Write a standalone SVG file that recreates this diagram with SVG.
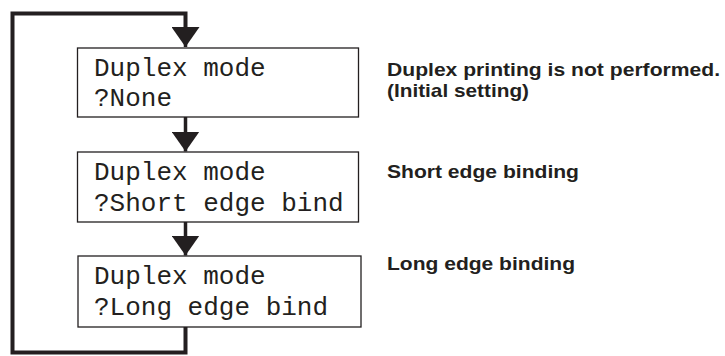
<svg xmlns="http://www.w3.org/2000/svg" width="725" height="356" viewBox="0 0 725 356">
<style>
.box{fill:#fff;stroke:#231f20;stroke-width:1.3}
.mono{font-family:"Liberation Mono","Courier New",monospace;font-size:26px;fill:#231f20}
.lbl{font-family:"Liberation Sans",Arial,sans-serif;font-size:19px;font-weight:bold;fill:#231f20}
.conn{fill:none;stroke:#231f20;stroke-width:4;stroke-linejoin:miter}
.flow{fill:none;stroke:#231f20;stroke-width:3.5}
</style>
<defs>
<marker id="ah" markerUnits="userSpaceOnUse" markerWidth="20" markerHeight="28" viewBox="0 0 20 28" refX="20" refY="14" orient="auto">
<polygon points="0,0 20,14 0,28" fill="#231f20"/>
</marker>
</defs>
<g id="connectors">
<path class="conn" d="M185.5,327 V352.5 H12.5 V13.5 H185.5 V30"/>
<path class="flow" d="M185.5,30 V47" marker-end="url(#ah)"/>
<path class="flow" d="M185.5,117 V151.5" marker-end="url(#ah)"/>
<path class="flow" d="M185.5,222 V255.5" marker-end="url(#ah)"/>
</g>
<g id="node1">
<rect class="box" x="77.5" y="48" width="281" height="69"/>
<text class="mono" x="94" y="76">Duplex mode</text>
<text class="mono" x="94" y="106">?None</text>
</g>
<g id="node2">
<rect class="box" x="77.5" y="152" width="281" height="70"/>
<text class="mono" x="94" y="180">Duplex mode</text>
<text class="mono" x="94" y="211">?Short edge bind</text>
</g>
<g id="node3">
<rect class="box" x="78" y="256" width="283" height="71"/>
<text class="mono" x="94" y="284">Duplex mode</text>
<text class="mono" x="94" y="315">?Long edge bind</text>
</g>
<g id="labels">
<text class="lbl" x="387" y="76" textLength="333" lengthAdjust="spacingAndGlyphs">Duplex printing is not performed.</text>
<text class="lbl" x="387" y="97" textLength="142" lengthAdjust="spacingAndGlyphs">(Initial setting)</text>
<text class="lbl" x="387" y="178" textLength="192" lengthAdjust="spacingAndGlyphs">Short edge binding</text>
<text class="lbl" x="387" y="270" textLength="188" lengthAdjust="spacingAndGlyphs">Long edge binding</text>
</g>
</svg>
